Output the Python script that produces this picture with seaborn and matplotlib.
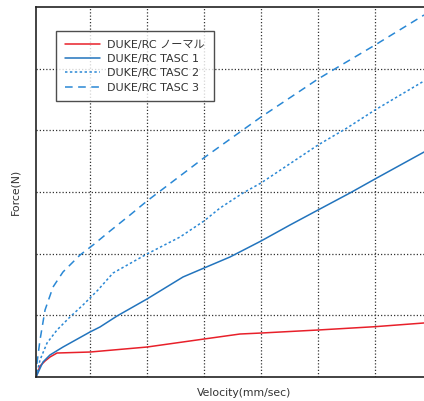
import matplotlib
matplotlib.use("Agg")
import matplotlib.pyplot as plt
import seaborn as sns
import pandas as pd

# ---- data (x in grid units, y in grid units; no tick labels in source) ----
normal_x = [0.053, 0.123, 0.211, 0.298, 0.421, 1.0, 2.0, 3.0, 3.63, 4.0, 5.0, 6.0, 6.86]
normal_y = [0.0, 0.178, 0.259, 0.324, 0.389, 0.405, 0.486, 0.616, 0.697, 0.713, 0.762, 0.816, 0.876]

tasc1_x = [0.053, 0.175, 0.298, 0.526, 1.0, 1.175, 1.474, 2.0, 2.632, 3.0, 3.456, 4.0, 4.509, 5.0, 5.561, 6.0, 6.86]
tasc1_y = [0.0, 0.243, 0.357, 0.486, 0.730, 0.811, 0.989, 1.265, 1.622, 1.767, 1.946, 2.205, 2.465, 2.708, 2.984, 3.211, 3.648]

tasc2_x = [0.053, 0.123, 0.246, 0.421, 0.649, 0.877, 1.140, 1.404, 2.0, 2.579, 3.0, 3.281, 3.684, 4.0, 5.0, 5.509, 6.0, 6.86]
tasc2_y = [0.0, 0.276, 0.551, 0.762, 0.973, 1.168, 1.411, 1.686, 1.995, 2.270, 2.530, 2.740, 2.984, 3.146, 3.762, 4.038, 4.330, 4.800]

tasc3_x = [0.053, 0.070, 0.123, 0.211, 0.351, 0.526, 0.825, 1.053, 1.351, 1.702, 2.0, 3.018, 3.632, 4.0, 5.0, 5.439, 6.0, 6.86]
tasc3_y = [0.0, 0.227, 0.600, 1.086, 1.459, 1.703, 1.978, 2.140, 2.367, 2.627, 2.854, 3.567, 3.973, 4.216, 4.832, 5.075, 5.383, 5.870]

series_names = ["DUKE/RC ノーマル", "DUKE/RC TASC 1", "DUKE/RC TASC 2", "DUKE/RC TASC 3"]
x_label = "Velocity(mm/sec)"
y_label = "Force(N)"

frames = []
for name, xs, ys in zip(series_names,
                        [normal_x, tasc1_x, tasc2_x, tasc3_x],
                        [normal_y, tasc1_y, tasc2_y, tasc3_y]):
    frames.append(pd.DataFrame({"x": xs, "y": ys, "series": name}))
df = pd.concat(frames, ignore_index=True)

sns.set_style("white")
plt.rcParams["font.family"] = ["DejaVu Sans", "Noto Sans CJK JP"]

palette = {series_names[0]: "#e8202a", series_names[1]: "#2274bd",
           series_names[2]: "#2a88d5", series_names[3]: "#2a88d5"}
dashes = {series_names[0]: "", series_names[1]: "",
          series_names[2]: (1.6, 1.6), series_names[3]: (5.0, 3.6)}

fig = plt.figure(figsize=(4.24, 4.01), dpi=100)
ax = fig.add_axes([36 / 424, 24 / 401, 416 / 424, 370 / 401])

sns.lineplot(data=df, x="x", y="y", hue="series", style="series",
             palette=palette, dashes=dashes, sort=False, estimator=None,
             linewidth=1.1, ax=ax, legend=False)

ax.set_xlim(3 / 57, (452 - 33) / 57)
ax.set_ylim(0, 6)
ax.set_xticks([1, 2, 3, 4, 5, 6])
ax.set_yticks([1, 2, 3, 4, 5])
ax.tick_params(length=0, labelbottom=False, labelleft=False)
ax.grid(True, color="#333333", linestyle=(0, (1, 1.6)), linewidth=0.9)
for s in ["left", "top", "bottom"]:
    ax.spines[s].set_color("#222222")
    ax.spines[s].set_linewidth(1.2)
ax.spines["right"].set_visible(False)

ax.set_xlabel(x_label, fontsize=7.8, color="#333333", labelpad=8)
ax.set_ylabel(y_label, fontsize=7.8, color="#333333", labelpad=11)

handles = ax.get_lines()[:4]
leg = ax.legend(handles, series_names, loc="upper left",
                bbox_to_anchor=(0.048, 0.935), borderaxespad=0,
                fancybox=False, frameon=True, edgecolor="#222222",
                fontsize=8, handlelength=3.2, handletextpad=0.6,
                labelspacing=0.38, borderpad=0.8)
leg.get_frame().set_linewidth(1.0)
for t in leg.get_texts():
    t.set_color("#333333")

fig.savefig("out.png", dpi=100)
